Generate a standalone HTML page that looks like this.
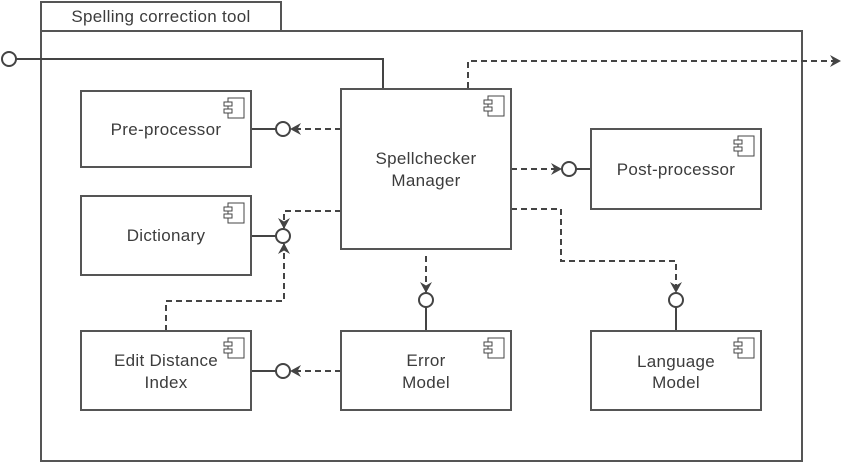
<!DOCTYPE html>
<html><head><meta charset="utf-8"><style>
html,body{margin:0;padding:0;background:#fff;}
svg{display:block;}
text{font-family:"Liberation Sans",sans-serif;font-size:17px;fill:#3c3c3c;text-anchor:middle;letter-spacing:0.3px;}
</style></head><body>
<svg width="851" height="463" viewBox="0 0 851 463" xmlns="http://www.w3.org/2000/svg">
<defs>
<marker id="a" markerWidth="12" markerHeight="12" refX="10" refY="6" orient="auto" markerUnits="userSpaceOnUse">
<path d="M0,0 L11,6 L0,12 L3.5,6 Z" fill="#444"/></marker>
<g id="ic" fill="#fff" stroke="#444" stroke-width="1">
<rect x="4" y="0" width="16" height="20"/><rect x="0" y="4" width="8" height="4"/><rect x="0" y="11" width="8" height="4"/></g>
</defs>
<g stroke="#555" stroke-width="2" fill="#fff">
<rect x="41" y="31" width="761" height="430"/>
<rect x="41" y="2" width="240" height="29"/>
</g>
<text x="161" y="22">Spelling correction tool</text>

<g stroke="#444" stroke-width="2" fill="none">
<polyline points="16,59 383,59 383,89"/>
<line x1="251" y1="129" x2="276" y2="129"/>
<line x1="251" y1="236" x2="276" y2="236"/>
<line x1="251" y1="371" x2="276" y2="371"/>
<line x1="576" y1="169" x2="591" y2="169"/>
<line x1="426" y1="307" x2="426" y2="331"/>
<line x1="676" y1="307" x2="676" y2="331"/>
</g>
<g stroke="#444" stroke-width="2" fill="none" stroke-dasharray="6,4">
<polyline points="468,88 468,61 840,61" marker-end="url(#a)"/>
<polyline points="341,129 291,129" marker-end="url(#a)"/>
<polyline points="341,211 284,211 284,228" marker-end="url(#a)"/>
<polyline points="166,331 166,301 284,301 284,244" marker-end="url(#a)"/>
<polyline points="341,371 291,371" marker-end="url(#a)"/>
<polyline points="511,169 561,169" marker-end="url(#a)"/>
<polyline points="426,256 426,292" marker-end="url(#a)"/>
<polyline points="511,209 561,209 561,261 676,261 676,292" marker-end="url(#a)"/>
</g>
<g stroke="#444" stroke-width="2" fill="#fff">
<circle cx="9" cy="59" r="7"/>
<circle cx="283" cy="129" r="7"/>
<circle cx="283" cy="236" r="7"/>
<circle cx="283" cy="371" r="7"/>
<circle cx="569" cy="169" r="7"/>
<circle cx="426" cy="300" r="7"/>
<circle cx="676" cy="300" r="7"/>
</g>
<g stroke="#555" stroke-width="2" fill="#fff">
<rect x="81" y="91" width="170" height="76"/>
<rect x="81" y="196" width="170" height="79"/>
<rect x="81" y="331" width="170" height="79"/>
<rect x="341" y="89" width="170" height="160"/>
<rect x="341" y="331" width="170" height="79"/>
<rect x="591" y="129" width="170" height="80"/>
<rect x="591" y="331" width="170" height="79"/>
</g>
<use href="#ic" x="224" y="98"/>
<use href="#ic" x="224" y="203"/>
<use href="#ic" x="224" y="338"/>
<use href="#ic" x="484" y="96"/>
<use href="#ic" x="484" y="338"/>
<use href="#ic" x="734" y="136"/>
<use href="#ic" x="734" y="338"/>

<text x="166" y="135">Pre-processor</text>
<text x="166" y="241">Dictionary</text>
<text x="166" y="366">Edit Distance</text>
<text x="166" y="388">Index</text>
<text x="426" y="164">Spellchecker</text>
<text x="426" y="186">Manager</text>
<text x="426" y="366">Error</text>
<text x="426" y="388">Model</text>
<text x="676" y="175">Post-processor</text>
<text x="676" y="367">Language</text>
<text x="676" y="388">Model</text>
</svg>
</body></html>
